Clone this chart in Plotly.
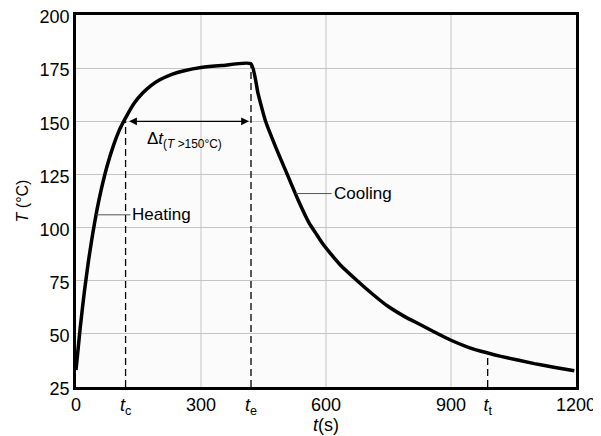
import plotly.graph_objects as go

# temperature history
heat_t = [0, 10, 20, 30, 40, 50, 60, 75, 90, 105, 120, 140, 160, 180, 200, 230, 260, 300, 350, 420]
heat_T = [33, 52.7, 69.7, 84.4, 97, 108, 117.4, 129.2, 138.7, 146.3, 152, 158.6, 163.3, 166.8,
          169.4, 172.1, 173.8, 175.3, 176.2, 177]
cool_t = [420, 437, 455, 480, 507, 533, 560, 575, 590, 610, 635, 675, 710, 747, 790, 827, 859,
          900, 940, 972, 1020, 1100, 1150, 1196]
cool_T = [177, 163, 150, 137.5, 125, 113, 102, 97.5, 93, 88, 82.3, 75, 69, 63.2, 58, 54.3, 51,
          47, 43.8, 41.8, 39.4, 36, 34.2, 32.6]

t_c, t_e, t_t = 119, 420, 988
T_c, T_e, T_t = 150, 177, 41

x_ticks = [0, t_c, 300, t_e, 600, 900, t_t, 1200]
x_labels = ["0", "<i>t</i><sub>c</sub>", "300", "<i>t</i><sub>e</sub>", "600", "900",
            "<i>t</i><sub>t</sub>", "1200"]
y_ticks = [25, 50, 75, 100, 125, 150, 175, 200]

FONT = "Liberation Sans, Arial, sans-serif"
# the page body adds an 8px margin around the plot div, so the figure is shrunk by it
PAGE_PAD = 8

fig = go.Figure()

# dashed markers for the characteristic times
for tx, ty in [(t_c, T_c), (t_e, T_e), (t_t, T_t)]:
    fig.add_trace(go.Scatter(x=[tx, tx], y=[25, ty], mode="lines",
                             line={"color": "black", "width": 1.3, "dash": "7px,4px"},
                             showlegend=False, hoverinfo="skip"))

fig.add_trace(go.Scatter(x=heat_t + cool_t[1:], y=heat_T + cool_T[1:], mode="lines",
                         line={"color": "black", "width": 3.5, "shape": "spline", "smoothing": 0.5},
                         showlegend=False))

# double-headed arrow across the time above 150 C
fig.add_annotation(x=t_e, y=150, ax=t_c, ay=150, xref="x", yref="y", axref="x", ayref="y",
                   text="", showarrow=True, arrowhead=2, arrowside="end+start",
                   arrowwidth=1.2, arrowsize=1.3, arrowcolor="black", standoff=2, startstandoff=2)
fig.add_annotation(x=166, y=141, xref="x", yref="y", showarrow=False, xanchor="left",
                   text="Δ<i>t</i><sub>(<i>T</i> >150°C)</sub>",
                   font={"size": 17, "color": "black", "family": FONT})

fig.add_annotation(x=49, y=106, xref="x", yref="y", ax=34, ay=0, text="Heating",
                   xanchor="left", showarrow=True, arrowhead=0, arrowwidth=1,
                   arrowcolor="#555", font={"size": 17, "color": "black", "family": FONT})
fig.add_annotation(x=527, y=116, xref="x", yref="y", ax=36, ay=0, text="Cooling",
                   xanchor="left", showarrow=True, arrowhead=0, arrowwidth=1,
                   arrowcolor="#555", font={"size": 17, "color": "black", "family": FONT})

fig.update_xaxes(range=[0, 1200], tickvals=x_ticks, ticktext=x_labels, automargin=False,
                 ticklabeloverflow="allow",
                 showgrid=False, zeroline=False, showline=True, linecolor="black", linewidth=2.5,
                 mirror=True, ticks="", tickfont={"size": 18, "family": FONT, "color": "black"},
                 title={"text": "<i>t</i>(s)", "font": {"size": 18, "family": FONT, "color": "black"},
                        "standoff": 2})
fig.update_yaxes(range=[25, 200], tickvals=y_ticks, automargin=False,
                 ticklabeloverflow="allow", ticklabelshift=2,
                 showgrid=True, gridcolor="#c4c4c4", gridwidth=1, zeroline=False,
                 showline=True, linecolor="black", linewidth=2.5, mirror=True, ticks="",
                 tickfont={"size": 18, "family": FONT, "color": "black"},
                 title={"text": "<i>T</i> (°C)", "font": {"size": 16, "family": FONT, "color": "black"},
                        "standoff": 8})

# vertical grid at the round times only
for gx in [300, 600, 900]:
    fig.add_vline(x=gx, line={"color": "#c4c4c4", "width": 1}, layer="below")

fig.update_layout(width=601 - PAGE_PAD, height=436 - PAGE_PAD,
                  margin={"l": 76 - PAGE_PAD, "r": 25, "t": 15 - PAGE_PAD, "b": 49},
                  plot_bgcolor="#fbfbfb", paper_bgcolor="white")

fig.write_html("out.html")
